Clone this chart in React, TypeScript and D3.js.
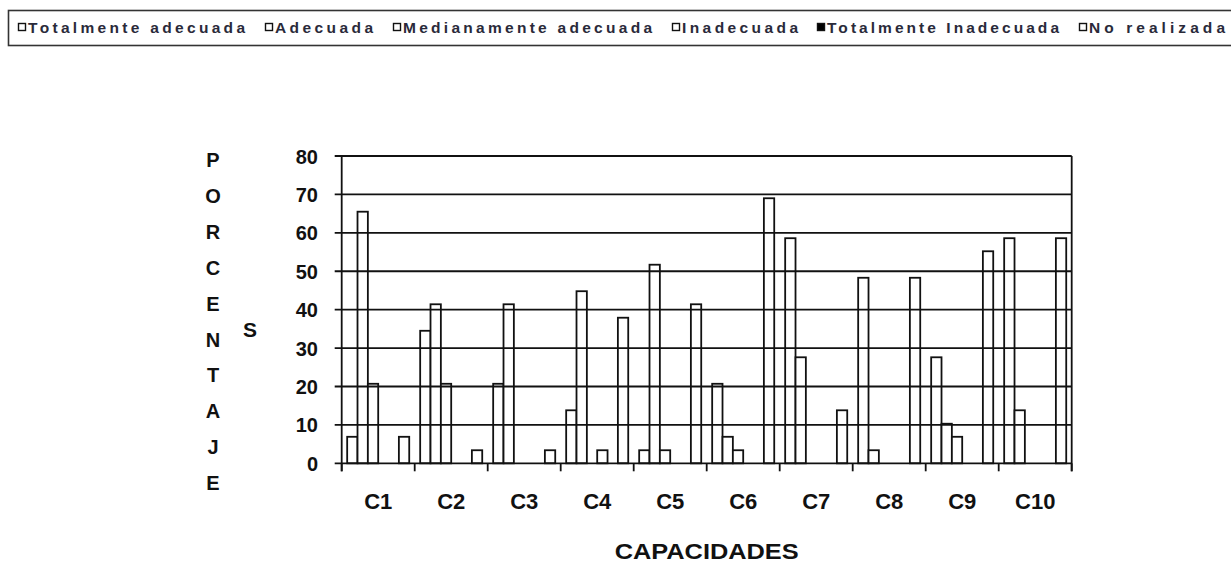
import React from "react";
import * as d3 from "d3";

const categories = ["C1", "C2", "C3", "C4", "C5", "C6", "C7", "C8", "C9", "C10"];
const seriesNames = [
  "Totalmente adecuada",
  "Adecuada",
  "Medianamente adecuada",
  "Inadecuada",
  "Totalmente Inadecuada",
  "No realizada",
];
const totalmenteAdecuada = [6.9, 34.5, 20.7, 13.8, 3.4, 20.7, 58.6, 48.3, 27.6, 58.6];
const adecuada = [65.5, 41.4, 41.4, 44.8, 51.7, 6.9, 27.6, 3.4, 10.3, 13.8];
const medianamenteAdecuada = [20.7, 20.7, 0, 0, 3.4, 3.4, 0, 0, 6.9, 0];
const inadecuada = [0, 0, 0, 3.4, 0, 0, 0, 0, 0, 0];
const totalmenteInadecuada = [0, 0, 0, 0, 0, 0, 0, 0, 0, 0];
const noRealizada = [6.9, 3.4, 3.4, 37.9, 41.4, 69.0, 13.8, 48.3, 55.2, 58.6];
const seriesValues = [
  totalmenteAdecuada,
  adecuada,
  medianamenteAdecuada,
  inadecuada,
  totalmenteInadecuada,
  noRealizada,
];
const seriesFills = ["#fff", "#fff", "#fff", "#fff", "#000", "#fff"];
const yTicks = [0, 10, 20, 30, 40, 50, 60, 70, 80];
const yTitleLetters = ["P", "O", "R", "C", "E", "N", "T", "A", "J", "E"];

// legend layout (box x, text end x)
const legendBoxX = [18, 265, 393, 672, 817, 1079];
const legendTextEnd = [245, 373, 652, 798, 1059, 1225];

const FONT = "'Liberation Sans', Arial, sans-serif";
const INK = "#111";

export default function App() {
  const W = 1231;
  const H = 563;
  const left = 341.7;
  const right = 1071.7;
  const top = 156;
  const bottom = 463.3;

  const x0 = d3
    .scaleBand<string>()
    .domain(categories)
    .range([left, right])
    .paddingInner(0.15)
    .paddingOuter(0.075);
  const x1 = d3
    .scaleBand<number>()
    .domain(d3.range(seriesNames.length))
    .range([0, x0.bandwidth()])
    .padding(0);
  const y = d3.scaleLinear().domain([0, 80]).range([bottom, top]);
  const step = x0.step();
  const boundaries = d3.range(categories.length + 1).map((i) => left + i * step);

  return (
    <div style={{ position: "absolute", left: 0, top: 0 }}>
      <svg width={W} height={H} style={{ display: "block", background: "#fff" }}>
        {/* legend */}
        <rect x={8.5} y={10.5} width={1240} height={35} fill="#fff" stroke="#333" strokeWidth={1.6} />
        {seriesNames.map((name, i) => {
          const bx = legendBoxX[i];
          const tx = bx + 10;
          return (
            <g key={name}>
              <rect
                x={bx + 0.5}
                y={23.5}
                width={7}
                height={7}
                fill={seriesFills[i]}
                stroke="#111"
                strokeWidth={1.4}
              />
              <text
                x={tx}
                y={32.5}
                fontFamily={FONT}
                fontSize={15.5}
                fontWeight="bold"
                fill="#2a2a3a"
                textLength={legendTextEnd[i] - tx}
                lengthAdjust="spacing"
              >
                {name}
              </text>
            </g>
          );
        })}

        {/* bars */}
        {categories.map((c, ci) => (
          <g key={c} transform={`translate(${x0(c)},0)`}>
            {seriesValues.map((vals, si) =>
              vals[ci] > 0 ? (
                <rect
                  key={si}
                  x={x1(si)}
                  y={y(vals[ci])}
                  width={x1.bandwidth()}
                  height={bottom - y(vals[ci])}
                  fill={seriesFills[si]}
                  stroke={INK}
                  strokeWidth={1.8}
                />
              ) : null
            )}
          </g>
        ))}

        {/* gridlines and y ticks */}
        {yTicks.map((t) => (
          <g key={t}>
            <line x1={left - 7} x2={right} y1={y(t)} y2={y(t)} stroke={INK} strokeWidth={1.8} />
            <text
              x={318}
              y={y(t) + 7.5}
              textAnchor="end"
              fontFamily={FONT}
              fontSize={20}
              fontWeight="bold"
              fill="#111"
            >
              {t}
            </text>
          </g>
        ))}

        {/* axes frame */}
        <line x1={left} x2={left} y1={top} y2={bottom + 8} stroke={INK} strokeWidth={1.8} />
        <line x1={right} x2={right} y1={top} y2={bottom + 8} stroke={INK} strokeWidth={1.8} />
        {boundaries.map((bx, i) => (
          <line key={i} x1={bx} x2={bx} y1={bottom} y2={bottom + 8} stroke={INK} strokeWidth={1.8} />
        ))}

        {/* category labels */}
        {categories.map((c) => (
          <text
            key={c}
            x={(x0(c) as number) + x0.bandwidth() / 2}
            y={509}
            textAnchor="middle"
            fontFamily={FONT}
            fontSize={22}
            fontWeight="bold"
            fill="#111"
          >
            {c}
          </text>
        ))}

        {/* x axis title */}
        <text
          x={(left + right) / 2}
          y={559}
          textAnchor="middle"
          fontFamily={FONT}
          fontSize={22}
          fontWeight="bold"
          fill="#111"
          textLength={184}
          lengthAdjust="spacingAndGlyphs"
        >
          CAPACIDADES
        </text>

        {/* y axis title (stacked letters) */}
        {yTitleLetters.map((l, i) => (
          <text
            key={i}
            x={213}
            y={167 + i * 35.9}
            textAnchor="middle"
            fontFamily={FONT}
            fontSize={20}
            fontWeight="bold"
            fill="#111"
          >
            {l}
          </text>
        ))}
        <text x={250} y={337} textAnchor="middle" fontFamily={FONT} fontSize={21} fontWeight="bold" fill="#111">
          S
        </text>
      </svg>
    </div>
  );
}
